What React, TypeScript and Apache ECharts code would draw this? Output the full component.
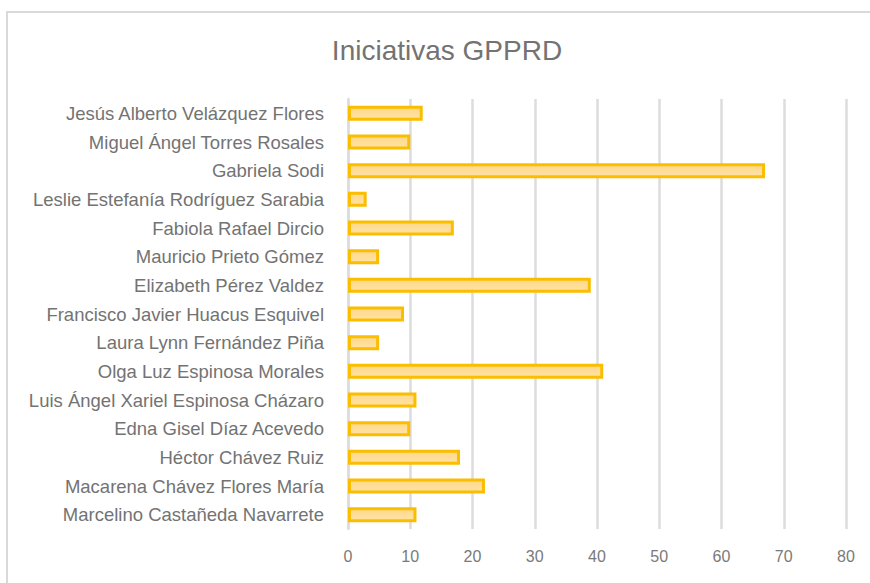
import React, { useEffect, useRef } from "react";
import * as echarts from "echarts";

const titleText = "Iniciativas GPPRD";

const categories = [
  "Jesús Alberto Velázquez Flores",
  "Miguel Ángel Torres Rosales",
  "Gabriela Sodi",
  "Leslie Estefanía Rodríguez Sarabia",
  "Fabiola Rafael Dircio",
  "Mauricio Prieto Gómez",
  "Elizabeth Pérez Valdez",
  "Francisco Javier Huacus Esquivel",
  "Laura Lynn Fernández Piña",
  "Olga Luz Espinosa Morales",
  "Luis Ángel Xariel Espinosa Cházaro",
  "Edna Gisel Díaz Acevedo",
  "Héctor Chávez Ruiz",
  "Macarena Chávez Flores María",
  "Marcelino Castañeda Navarrete",
];

const values = [12, 10, 67, 3, 17, 5, 39, 9, 5, 41, 11, 10, 18, 22, 11];

const xMin = 0;
const xMax = 80;
const xInterval = 10;

export default function App() {
  const ref = useRef<HTMLDivElement>(null);

  useEffect(() => {
    if (!ref.current) return;
    const chart = echarts.init(ref.current, null, { renderer: "svg" });
    const font = "Liberation Sans, Arial, sans-serif";
    chart.setOption({
      animation: false,
      backgroundColor: "#ffffff",
      title: {
        text: titleText,
        left: 442,
        textAlign: "center",
        top: 31,
        textStyle: {
          fontFamily: font,
          fontSize: 28,
          fontWeight: "normal",
          color: "#737373",
        },
      },
      graphic: [
        {
          type: "rect",
          shape: { x: 7, y: 12, width: 900, height: 620 },
          style: { fill: "none", stroke: "#d9d9d9", lineWidth: 2 },
          silent: true,
          z: -1,
        },
      ],
      grid: {
        left: 348,
        right: 24,
        top: 99,
        bottom: 54,
        containLabel: false,
      },
      xAxis: {
        type: "value",
        min: xMin,
        max: xMax,
        interval: xInterval,
        axisLine: { show: false },
        axisTick: { show: false },
        splitLine: { show: true, lineStyle: { color: "#dcdcdc", width: 2.5 } },
        axisLabel: {
          fontFamily: font,
          fontSize: 16,
          color: "#7a7a7a",
          margin: 19,
        },
      },
      yAxis: {
        type: "category",
        data: categories,
        inverse: true,
        axisLine: { show: true, lineStyle: { color: "#dcdcdc", width: 2.5 } },
        axisTick: { show: false },
        axisLabel: {
          fontFamily: font,
          fontSize: 18.5,
          color: "#737373",
          margin: 24,
        },
      },
      series: [
        {
          type: "bar",
          data: values,
          barWidth: 15,
          itemStyle: {
            color: new echarts.graphic.LinearGradient(0, 0, 0, 1, [
              { offset: 0, color: "#FFD98A" },
              { offset: 1, color: "#FFE2A6" },
            ]),
            borderColor: "#FABD00",
            borderWidth: 3,
          },
        },
      ],
    });
    return () => chart.dispose();
  }, []);

  return (
    <div
      ref={ref}
      style={{ position: "fixed", left: 0, top: 0, width: 870, height: 583 }}
    />
  );
}
